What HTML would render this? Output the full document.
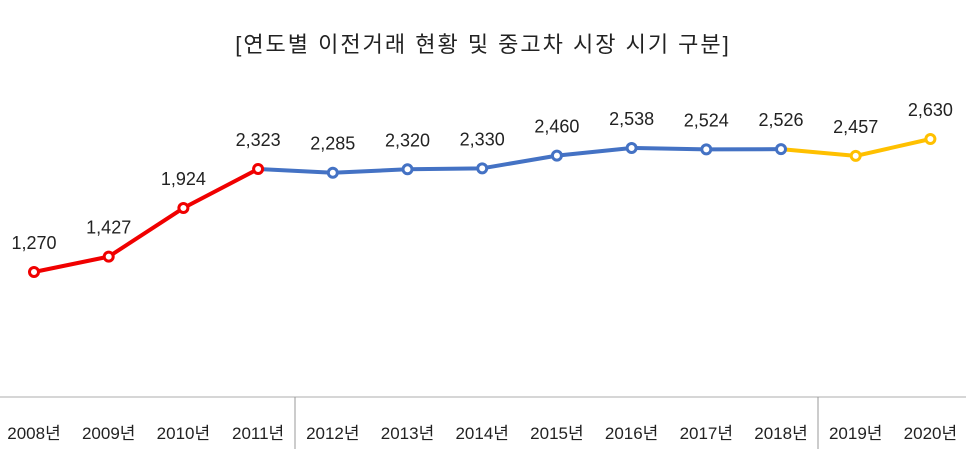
<!DOCTYPE html>
<html><head><meta charset="utf-8"><style>
body{margin:0;background:#fff;}
svg text{font-family:"Liberation Sans","Noto Sans CJK KR",sans-serif;}
</style></head><body>
<svg width="966" height="449">
<text x="483" y="52" text-anchor="middle" font-size="22" fill="#222" letter-spacing="2">[연도별 이전거래 현황 및 중고차 시장 시기 구분]</text>
<line x1="0" y1="397" x2="966" y2="397" stroke="#c8c8c8" stroke-width="1.5"/>
<line x1="295" y1="397" x2="295" y2="449" stroke="#999"/>
<line x1="818" y1="397" x2="818" y2="449" stroke="#999"/>
<g id="g"></g>
</svg>
<script>
const categories=["2008년","2009년","2010년","2011년","2012년","2013년","2014년","2015년","2016년","2017년","2018년","2019년","2020년"];
const values=[1270,1427,1924,2323,2285,2320,2330,2460,2538,2524,2526,2457,2630];
const labels=["1,270","1,427","1,924","2,323","2,285","2,320","2,330","2,460","2,538","2,524","2,526","2,457","2,630"];
const segments=[[0,3,"#f00000"],[3,10,"#4472c4"],[10,12,"#ffc000"]];
const xs=i=>34+i*74.7;
const ys=v=>272-(v-1270)*0.0978;
const NS="http://www.w3.org/2000/svg",g=document.getElementById("g");
function mk(t,a){const e=document.createElementNS(NS,t);for(const k in a)e.setAttribute(k,a[k]);g.appendChild(e);return e;}
segments.forEach(([a,b,c])=>{
 let p=[];for(let i=a;i<=b;i++)p.push(xs(i)+","+ys(values[i]));
 const l=mk("polyline",{points:p.join(" "),fill:"none",stroke:c,"stroke-width":4,"stroke-linejoin":"round"});
 
 
});
values.forEach((v,i)=>{
 const c=i<=3?"#f00000":i<=10?"#4472c4":"#ffc000";
 const m=mk("circle",{cx:xs(i),cy:ys(v),r:4.5,fill:"#fff",stroke:c,"stroke-width":3});
 
 
 const t=mk("text",{x:xs(i),y:ys(v)-23,"text-anchor":"middle","font-size":18,fill:"#222"});
 t.textContent=labels[i];
 
 
 const x=mk("text",{x:xs(i),y:439,"text-anchor":"middle","font-size":17,fill:"#222"});
 x.textContent=categories[i];
 
 
});
</script>
</body></html>
